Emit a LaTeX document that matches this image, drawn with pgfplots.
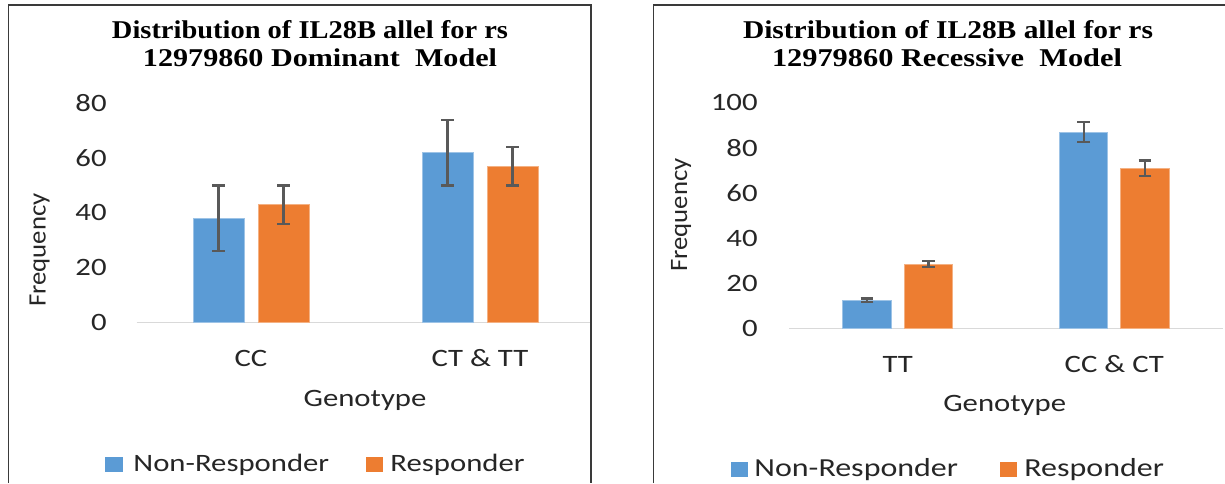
\documentclass[border=0pt]{standalone}
\usepackage{pgfplots}
\pgfplotsset{compat=1.18}
\usepackage{fontspec}
\usepackage{graphicx}
\setmainfont{Carlito}
\newfontfamily\lab{Carlito}[FakeStretch=1.23]
\newfontfamily\labv{Carlito}[FakeStretch=1.07]
\newfontfamily\ttl{Liberation Serif}
\definecolor{nrblue}{HTML}{5B9BD5}
\definecolor{rorange}{HTML}{ED7D31}
\definecolor{nredge}{HTML}{9DC3E6}
\definecolor{redge}{HTML}{F4B183}
\definecolor{axgray}{HTML}{D9D9D9}
\definecolor{errgray}{HTML}{595959}
\definecolor{txt}{HTML}{262626}
\definecolor{frame}{HTML}{3A3A3A}
\pgfplotsset{
  mybar/.style={
    scale only axis, ybar,
    axis x line*=bottom, axis y line*=left,
    x axis line style={-, draw=axgray, line width=0.75pt},
    y axis line style={draw=none},
    xtick={0,1}, major tick length=0pt,
    ymin=0, xmin=-0.5, xmax=1.5,
    enlarge x limits=false, enlarge y limits=false,
    tick label style={font=\lab\fontsize{12.5pt}{15pt}\selectfont, text=txt},
    /pgf/number format/assume math mode=true,
    xticklabel style={anchor=base, inner sep=0pt, yshift=-22pt},
    clip=false,
    error bars/y dir=both, error bars/y explicit,
    error bars/error bar style={draw=errgray, line width=1.1pt, solid},
    error bars/error mark options={draw=errgray, line width=1.1pt, mark size=3.2pt, solid, rotate=90},
  },
  nrstyle/.style={fill=nrblue, draw=nredge, line width=0.4pt},
  rstyle/.style={fill=rorange, draw=redge, line width=0.4pt},
}
\newcommand\ttlfont{\ttl\bfseries\fontsize{12.8pt}{15pt}\selectfont}
\newcommand\labfont{\lab\fontsize{12.5pt}{15pt}\selectfont}
\begin{document}
\begin{tikzpicture}
\useasboundingbox (0,0) rectangle (612.5pt,-241.5pt);
% ---------- left panel ----------
\begin{scope}
\clip (0,0) rectangle (295.5pt,-241.5pt);
\begin{axis}[mybar,
  at={(68.25pt,-161.25pt)}, anchor=south west,
  width=229pt, height=109.6pt,
  ymax=80, ytick={0,20,40,60,80},
  yticklabel style={anchor=east, inner sep=0pt, xshift=-14.75pt},
  xticklabels={CC, CT \& TT},
  ybar=7pt, bar width=25.5pt]
\addplot[nrstyle] coordinates {(0,38) +- (0,12) (1,62) +- (0,12)};
\addplot[rstyle] coordinates {(0,43) +- (0,7) (1,57) +- (0,7)};
\end{axis}
\end{scope}
% ---------- right panel ----------
\begin{axis}[mybar,
  at={(394.7pt,-164.15pt)}, anchor=south west,
  width=216.6pt, height=112.8pt,
  ymax=100, ytick={0,20,40,60,80,100},
  yticklabel style={anchor=east, inner sep=0pt, xshift=-15.7pt},
  xticklabels={TT, CC \& CT},
  ybar=6.55pt, bar width=24.15pt]
\addplot[nrstyle] coordinates {(0,12.5) +- (0,0.7) (1,87) +- (0,4.4)};
\addplot[rstyle] coordinates {(0,28.5) +- (0,1.3) (1,71) +- (0,3.4)};
\end{axis}
% ---------- frames ----------
\draw[frame, line width=0.75pt] (4.15pt,-241.5pt) -- (4.15pt,-2.5pt) -- (295.5pt,-2.5pt) -- (295.5pt,-241.5pt);
\draw[frame, line width=0.75pt] (326.75pt,-241.5pt) -- (326.75pt,-2.5pt) -- (612.5pt,-2.5pt);
% ---------- titles ----------
\node[anchor=base, inner sep=0pt] at (155pt,-19.15pt) {\resizebox{198pt}{\height}{\ttlfont Distribution of IL28B allel for rs}};
\node[anchor=base, inner sep=0pt] at (160pt,-33.35pt) {\resizebox{177pt}{\height}{\ttlfont 12979860 Dominant\ \ Model}};
\node[anchor=base, inner sep=0pt] at (474pt,-19.15pt) {\resizebox{205pt}{\height}{\ttlfont Distribution of IL28B allel for rs}};
\node[anchor=base, inner sep=0pt] at (473.5pt,-33.35pt) {\resizebox{175pt}{\height}{\ttlfont 12979860 Recessive\ \ Model}};
% ---------- axis titles ----------
\node[rotate=90, anchor=base, inner sep=0pt, text=txt, font=\labv\fontsize{12.5pt}{15pt}\selectfont] at (22.75pt,-125pt) {Frequency};
\node[rotate=90, anchor=base, inner sep=0pt, text=txt, font=\labv\fontsize{12.5pt}{15pt}\selectfont] at (343.5pt,-107.5pt) {Frequency};
\node[anchor=base, inner sep=0pt, text=txt, font=\labfont] at (182.5pt,-203.35pt) {Genotype};
\node[anchor=base, inner sep=0pt, text=txt, font=\labfont] at (502.35pt,-205.85pt) {Genotype};
% ---------- legends ----------
\fill[nrblue] (52.5pt,-228.35pt) rectangle (61.5pt,-235.85pt);
\node[anchor=base west, inner sep=0pt, text=txt, font=\labfont] at (66.5pt,-235.85pt) {Non-Responder};
\fill[rorange] (183pt,-228.35pt) rectangle (191.5pt,-235.85pt);
\node[anchor=base west, inner sep=0pt, text=txt, font=\labfont] at (195pt,-235.85pt) {Responder};
\fill[nrblue] (365.5pt,-231pt) rectangle (374pt,-238.5pt);
\node[anchor=base west, inner sep=0pt, text=txt, font=\lab\fontsize{13pt}{15pt}\selectfont] at (377pt,-238.35pt) {Non-Responder};
\fill[rorange] (500pt,-231pt) rectangle (508.5pt,-238.5pt);
\node[anchor=base west, inner sep=0pt, text=txt, font=\lab\fontsize{13pt}{15pt}\selectfont] at (512pt,-238.35pt) {Responder};
\end{tikzpicture}
\end{document}
